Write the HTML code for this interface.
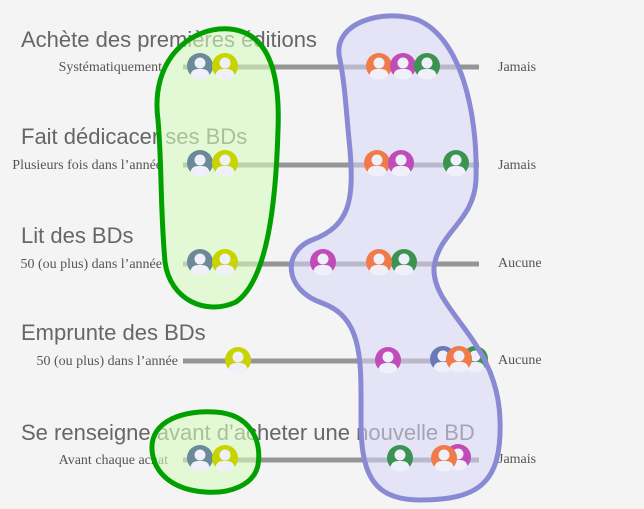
<!DOCTYPE html>
<html><head><meta charset="utf-8"><style>
html,body{margin:0;padding:0;background:#f4f4f4;}
svg{display:block}
.t{font-family:"Liberation Sans",sans-serif;font-size:22px;fill:#666;}
.l{font-family:"Liberation Serif",serif;font-size:14px;fill:#555;}
</style></head><body>
<svg width="644" height="509" viewBox="0 0 644 509" xmlns="http://www.w3.org/2000/svg">
<defs>
<clipPath id="cc"><circle r="13.5"/></clipPath>
<g id="ic">
<circle r="13" fill="currentColor"/>
<g clip-path="url(#cc)">
<circle cy="-3" r="5.5" fill="#f0f0fa"/>
<path d="M-10 14 C-10 4,-6 3,0 3 C6 3,10 4,10 14Z" fill="#f0f0fa"/>
</g>
</g>
<path id="g1" d="M158 120 C150 60,190 26,230 29 C272 33,280 80,278 130 C276 200,268 280,236 302 C206 316,170 300,165 262 C160 205,162 165,158 120Z"/>
<path id="g2" d="M152 450 C150 420,185 410,215 412 C250 414,262 440,258 465 C254 485,230 494,205 492 C175 490,154 475,152 450Z"/>
<path id="b1" d="M340 60 C330 22,385 8,418 20 C460 38,478 110,476 180 C474 222,438 232,434 268 C432 310,498 340,500 420 C502 482,480 500,420 500 C370 500,361 470,361 420 C361 362,364 318,322 303 C284 290,282 252,312 240 C350 226,354 200,350 150 C346 110,345 85,340 60Z"/>
</defs>
<text class="t" x="21" y="47">Achète des premières éditions</text>
<text class="t" x="21" y="144">Fait dédicacer ses BDs</text>
<text class="t" x="21" y="243">Lit des BDs</text>
<text class="t" x="21" y="340">Emprunte des BDs</text>
<text class="t" x="21" y="440">Se renseigne avant d’acheter une nouvelle BD</text>
<g class="l" text-anchor="end">
<text x="162" y="71">Systématiquement</text>
<text x="162" y="169">Plusieurs fois dans l’année</text>
<text x="162" y="268">50 (ou plus) dans l’année</text>
<text x="178" y="365">50 (ou plus) dans l’année</text>
<text x="168" y="464">Avant chaque achat</text>
</g>
<g class="l">
<text x="498" y="71">Jamais</text>
<text x="498" y="169">Jamais</text>
<text x="498" y="267">Aucune</text>
<text x="498" y="364">Aucune</text>
<text x="498" y="463">Jamais</text>
</g>
<g stroke="#959595" stroke-width="5">
<line x1="183" y1="67" x2="479" y2="67"/>
<line x1="183" y1="165" x2="479" y2="165"/>
<line x1="183" y1="264" x2="479" y2="264"/>
<line x1="183" y1="361" x2="479" y2="361"/>
<line x1="183" y1="460" x2="479" y2="460"/>
</g>
<g fill="rgba(215,250,190,0.6)"><use href="#g1"/><use href="#g2"/></g>
<use href="#b1" fill="rgba(215,215,248,0.55)"/>
<g>
<use href="#ic" x="200" y="66" color="#6a8a98"/><use href="#ic" x="225" y="66" color="#c8d400"/>
<use href="#ic" x="379" y="66" color="#f07a48"/><use href="#ic" x="403" y="66" color="#c04cb8"/><use href="#ic" x="427" y="66" color="#3a9450"/>
<use href="#ic" x="200" y="163" color="#6a8a98"/><use href="#ic" x="225" y="163" color="#c8d400"/>
<use href="#ic" x="377" y="163" color="#f07a48"/><use href="#ic" x="401" y="163" color="#c04cb8"/><use href="#ic" x="456" y="163" color="#3a9450"/>
<use href="#ic" x="200" y="262" color="#6a8a98"/><use href="#ic" x="225" y="262" color="#c8d400"/>
<use href="#ic" x="323" y="262" color="#c04cb8"/><use href="#ic" x="404" y="262" color="#3a9450"/><use href="#ic" x="379" y="262" color="#f07a48"/>
<use href="#ic" x="238" y="360" color="#c8d400"/>
<use href="#ic" x="388" y="360" color="#c04cb8"/><use href="#ic" x="443" y="359" color="#6a7ab8"/><use href="#ic" x="475" y="359" color="#3a9450"/><use href="#ic" x="459" y="359" color="#f07a48"/>
<use href="#ic" x="200" y="458" color="#6a8a98"/><use href="#ic" x="225" y="458" color="#c8d400"/>
<use href="#ic" x="400" y="458" color="#3a9450"/><use href="#ic" x="458" y="457" color="#c04cb8"/><use href="#ic" x="444" y="458" color="#f07a48"/>
</g>
<g fill="none" stroke="#00a000" stroke-width="5"><use href="#g1"/><use href="#g2"/></g>
<use href="#b1" fill="none" stroke="#8a8ad4" stroke-width="5"/>
</svg>
</body></html>
